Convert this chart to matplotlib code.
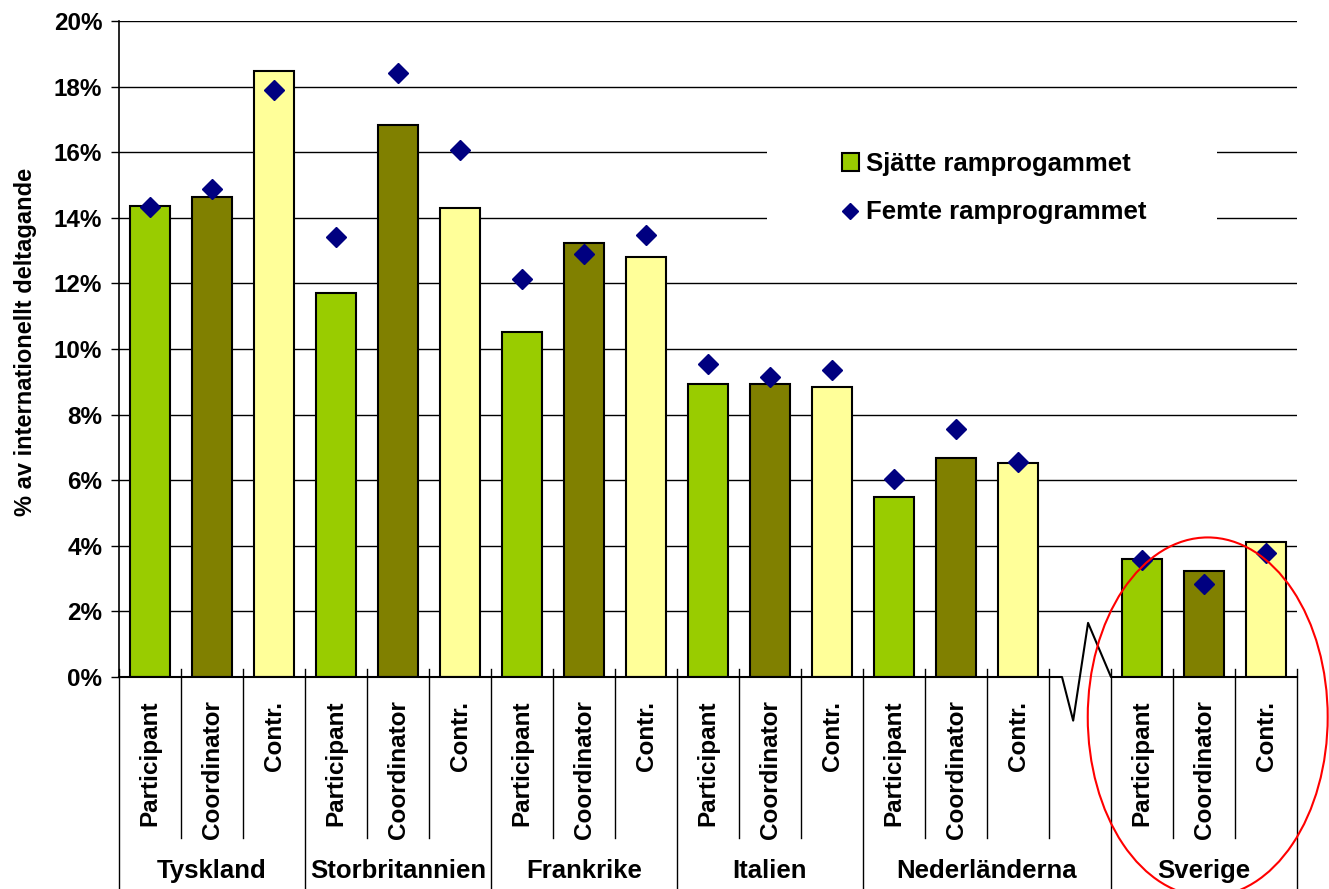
import matplotlib
matplotlib.use("Agg")
import matplotlib.pyplot as plt
import numpy as np
from matplotlib.patches import Ellipse, Rectangle
from matplotlib.transforms import blended_transform_factory

plt.rcParams['font.family'] = ['Liberation Sans', 'DejaVu Sans']
plt.rcParams['font.weight'] = 'bold'

countries = ["Tyskland", "Storbritannien", "Frankrike", "Italien", "Nederländerna", "Sverige"]
roles = ["Participant", "Coordinator", "Contr."]
role_colors = ["#99CC00", "#808000", "#FFFF99"]

# percent, per country in role order
fp6 = [[14.36, 14.64, 18.48],
       [11.72, 16.82, 14.30],
       [10.53, 13.24, 12.81],
       [8.93, 8.93, 8.83],
       [5.48, 6.67, 6.53],
       [3.60, 3.24, 4.12]]
fp5 = [[14.32, 14.89, 17.89],
       [13.42, 18.40, 16.07],
       [12.12, 12.89, 13.48],
       [9.54, 9.14, 9.36],
       [6.03, 7.55, 6.55],
       [3.57, 2.84, 3.79]]

# slot positions: three per country, one empty slot before Sverige
pos = []
for i in range(len(countries)):
    start = i * 3 + (1 if i == 5 else 0)
    pos.append([start, start + 1, start + 2])
pos = np.array(pos)
nslots = pos.max() + 1

fig = plt.figure(figsize=(13.29, 8.89), dpi=100)
ax = fig.add_axes([119 / 1329, 1 - 677 / 889, 1178 / 1329, 656 / 889])

xs = pos.flatten()
bars = ax.bar(xs, np.array(fp6).flatten(), width=0.66,
              color=role_colors * len(countries), edgecolor="black",
              linewidth=1.5, zorder=2, label="Sjätte ramprogammet")
pts, = ax.plot(xs, np.array(fp5).flatten(), linestyle="none", marker="D",
               ms=10.5, color="#000080", zorder=3, label="Femte ramprogrammet")

ax.set_xlim(-0.5, nslots - 0.5)
ax.set_ylim(0, 20)
ax.set_yticks(np.arange(0, 21, 2))
ax.set_yticklabels(["%d%%" % v for v in range(0, 21, 2)])
ax.yaxis.grid(True, color="black", linewidth=1)
ax.set_axisbelow(True)
ax.tick_params(axis="y", length=6, width=1, pad=6, labelsize=17.5)
for s in ["top", "right", "bottom"]:
    ax.spines[s].set_visible(False)
ax.spines["left"].set_linewidth(1.2)

ax.set_xticks(xs)
ax.set_xticklabels(roles * len(countries), rotation=90, fontsize=17.5)
ax.tick_params(axis="x", length=0, pad=17)

# category separators
trans = blended_transform_factory(ax.transData, ax.transAxes)
group_edges = [-0.5, 2.5, 5.5, 8.5, 11.5, 15.5, 18.5]
for b in np.arange(-0.5, nslots, 1.0):
    low = -0.323 if b in group_edges else -0.246
    ax.plot([b, b], [low, 0.012], transform=trans, color="black",
            linewidth=1, clip_on=False, zorder=1)

# group labels
centers = [1, 4, 7, 10, 13.5, 17]
for c, name in zip(centers, countries):
    ax.text(c, -0.296, name, transform=trans, ha="center", va="center",
            fontsize=18.5, fontweight="bold")

# x axis line with break mark
ax.plot([-0.5, 14.71, 14.89, 15.13, 15.5, nslots - 0.5],
        [0, 0, -1.33, 1.65, 0, 0], color="black", linewidth=1.5,
        clip_on=False, zorder=4)

# white box behind legend
ax.add_patch(Rectangle((0.55, 0.651), 0.382, 0.198, transform=ax.transAxes,
                       facecolor="white", edgecolor="none", zorder=1))
leg = ax.legend(handles=[bars, pts], loc="upper left",
                bbox_to_anchor=(842 / 1329, 1 - 152 / 889),
                bbox_transform=fig.transFigure, frameon=False,
                prop={"weight": "bold", "size": 18.5}, handlelength=0.65,
                handleheight=0.65, handletextpad=0.3, labelspacing=0.95,
                borderpad=0, borderaxespad=0, markerscale=0.78)

# red ellipse around Sverige
ax.add_patch(Ellipse((17.06, -1.22), 3.87, 10.95, fill=False,
                     edgecolor="red", linewidth=1.5, clip_on=False, zorder=5))

fig.text(26 / 1329, 1 - 342 / 889, "% av internationellt deltagande",
         rotation=90, ha="center", va="center", fontsize=17,
         fontweight="bold")

fig.savefig("out.png", dpi=100)
